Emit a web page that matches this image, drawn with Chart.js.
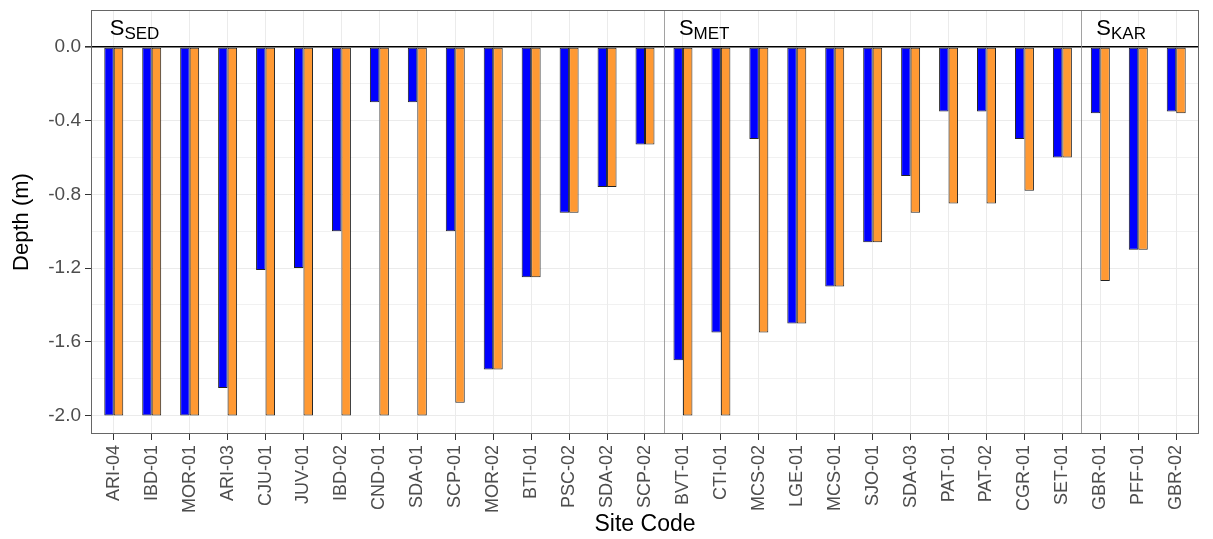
<!DOCTYPE html>
<html>
<head>
<meta charset="utf-8">
<script src="https://cdn.jsdelivr.net/npm/chart.js@4.4.0/dist/chart.umd.min.js"></script>
<style>
  html, body { margin: 0; padding: 0; background: #ffffff; }
  #wrap { width: 1213px; height: 539px; position: relative; }
</style>
</head>
<body>
<div id="wrap"><canvas id="chart"></canvas></div>
<script>
'use strict';

// ─── Data ────────────────────────────────────────────────────────────────────

const SITES = [
  'ARI-04', 'IBD-01', 'MOR-01', 'ARI-03', 'CJU-01', 'JUV-01', 'IBD-02', 'CND-01',
  'SDA-01', 'SCP-01', 'MOR-02', 'BTI-01', 'PSC-02', 'SDA-02', 'SCP-02',
  'BVT-01', 'CTI-01', 'MCS-02', 'LGE-01', 'MCS-01', 'SJO-01', 'SDA-03', 'PAT-01',
  'PAT-02', 'CGR-01', 'SET-01',
  'GBR-01', 'PFF-01', 'GBR-02',
];

// blue bars (left of each pair)
const DEPTH_BLUE = [
  -2.0, -2.0, -2.0, -1.85, -1.21, -1.2, -1.0, -0.3, -0.3, -1.0, -1.75, -1.25, -0.9, -0.76, -0.53,
  -1.7, -1.55, -0.5, -1.5, -1.3, -1.06, -0.7, -0.35, -0.35, -0.5, -0.6,
  -0.36, -1.1, -0.35,
];

// orange bars (right of each pair)
const DEPTH_ORANGE = [
  -2.0, -2.0, -2.0, -2.0, -2.0, -2.0, -2.0, -2.0, -2.0, -1.93, -1.75, -1.25, -0.9, -0.76, -0.53,
  -2.0, -2.0, -1.55, -1.5, -1.3, -1.06, -0.9, -0.85, -0.85, -0.78, -0.6,
  -1.27, -1.1, -0.36,
];

// facet groups: subscript name and index of first site
const GROUP_NAMES = ['SED', 'MET', 'KAR'];
const GROUP_START = [0, 15, 26];

// y ticks (major every 0.4, minor in between)
const Y_TICKS = [-2.0, -1.8, -1.6, -1.4, -1.2, -1.0, -0.8, -0.6, -0.4, -0.2, 0.0, 0.2];

// ─── Helpers ─────────────────────────────────────────────────────────────────

const FONT = "'Liberation Sans', Arial, Helvetica, sans-serif";
const isMajor = v => Math.round(v * 10) % 4 === 0;

// ─── Facet strip plugin: separators, labels, border ─────────────────────────

const facetPlugin = {
  id: 'facets',
  afterDatasetsDraw(chart) {
    const { ctx, chartArea: a, scales: { x } } = chart;
    ctx.save();

    // separators between groups
    ctx.strokeStyle = '#8a8a8a';
    ctx.lineWidth = 0.8;
    GROUP_START.slice(1).forEach(s => {
      const px = Math.round(x.getPixelForValue(s - 0.5)) + 0.5;
      ctx.beginPath();
      ctx.moveTo(px, a.top);
      ctx.lineTo(px, a.bottom);
      ctx.stroke();
    });

    // group labels S with subscript
    ctx.fillStyle = '#000';
    ctx.textBaseline = 'alphabetic';
    ctx.textAlign = 'left';
    GROUP_NAMES.forEach((name, i) => {
      const px = x.getPixelForValue(GROUP_START[i]) - 4;
      ctx.font = `22px ${FONT}`;
      ctx.fillText('S', px, a.top + 25);
      const w = ctx.measureText('S').width;
      ctx.font = `17px ${FONT}`;
      ctx.fillText(name, px + w, a.top + 29);
    });

    // panel border
    ctx.strokeStyle = '#666';
    ctx.lineWidth = 1;
    ctx.strokeRect(a.left + 0.5, a.top + 0.5, a.right - a.left - 1, a.bottom - a.top - 1);
    ctx.restore();
  },
};

// ─── Chart ───────────────────────────────────────────────────────────────────

const ctx = document.getElementById('chart').getContext('2d');

new Chart(ctx, {
  type: 'bar',
  data: {
    datasets: [
      {
        label: 'blue',
        data: DEPTH_BLUE.map((v, i) => ({ x: i, y: v })),
        backgroundColor: '#0000ff',
        borderColor: '#222',
        borderWidth: 1,
        borderSkipped: false,
      },
      {
        label: 'orange',
        data: DEPTH_ORANGE.map((v, i) => ({ x: i, y: v })),
        backgroundColor: '#ff9933',
        borderColor: '#222',
        borderWidth: 1,
        borderSkipped: false,
      },
    ],
  },
  options: {
    responsive: true,
    maintainAspectRatio: false,
    animation: false,
    devicePixelRatio: 1,
    layout: { padding: { top: 10, right: 14, left: 0, bottom: 0 } },
    categoryPercentage: 0.5,
    barPercentage: 1.0,
    plugins: {
      legend: { display: false },
      tooltip: { enabled: false },
    },
    scales: {
      x: {
        type: 'linear',
        min: -0.6,
        max: SITES.length - 1 + 0.6,
        offset: false,
        afterBuildTicks: scale => { scale.ticks = SITES.map((_, i) => ({ value: i })); },
        afterFit: scale => { scale.height = 105; scale.paddingLeft = 0; scale.paddingRight = 0; },
        ticks: {
          autoSkip: false,
          minRotation: 90,
          maxRotation: 90,
          padding: 5,
          color: '#4d4d4d',
          font: { family: FONT, size: 18 },
          callback: v => SITES[v],
        },
        grid: {
          offset: false,
          color: '#ebebeb',
          lineWidth: 1,
          tickColor: '#333',
          tickLength: 6,
        },
        border: { display: false },
        title: {
          display: true,
          text: 'Site Code',
          color: '#000',
          font: { family: FONT, size: 23 },
          padding: { top: 0, bottom: 1 },
        },
      },
      y: {
        min: -2.1,
        max: 0.2,
        afterBuildTicks: scale => { scale.ticks = Y_TICKS.map(v => ({ value: v })); },
        afterFit: scale => { scale.width = 91; scale.paddingTop = 0; scale.paddingBottom = 0; },
        ticks: {
          padding: 4,
          color: '#4d4d4d',
          font: { family: FONT, size: 19 },
          callback: v => (isMajor(v) && v < 0.1 ? v.toFixed(1) : ''),
        },
        grid: {
          color: c => (Math.abs(c.tick.value) < 1e-9 ? '#000' : '#ebebeb'),
          lineWidth: c => (Math.abs(c.tick.value) < 1e-9 ? 1.6 : (isMajor(c.tick.value) ? 1 : 0.7)),
          tickColor: c => (isMajor(c.tick.value) && c.tick.value < 0.1 ? '#333' : 'rgba(0,0,0,0)'),
          tickLength: 6,
        },
        border: { display: false },
        title: {
          display: true,
          text: 'Depth (m)',
          color: '#000',
          font: { family: FONT, size: 22 },
          padding: { top: 9, bottom: 0 },
        },
      },
    },
  },
  plugins: [facetPlugin],
});
</script>
</body>
</html>
